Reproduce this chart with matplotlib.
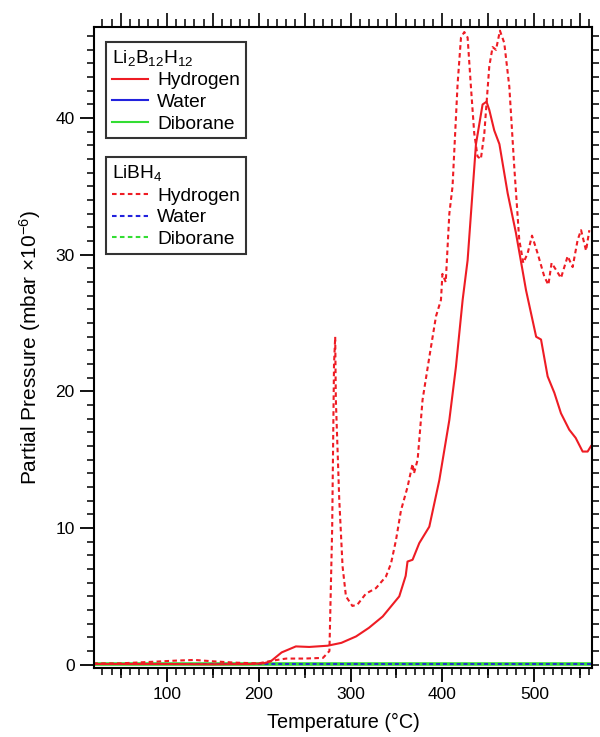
import matplotlib
matplotlib.use("Agg")
import matplotlib.pyplot as plt
from matplotlib.ticker import MultipleLocator, FixedLocator, NullFormatter
from matplotlib.lines import Line2D

plt.rcParams['font.family'] = ['Liberation Sans', 'DejaVu Sans']
plt.rcParams['mathtext.fontset'] = 'custom'
plt.rcParams['mathtext.rm'] = 'Liberation Sans'
plt.rcParams['mathtext.it'] = 'Liberation Sans'

# Li2B12H12 hydrogen (solid)
t_lib12 = [20, 60, 100, 150, 190, 205, 213, 225, 240.5, 255, 275, 290, 306, 320, 335,
           353, 360, 362, 367.5, 374.8, 385.7, 396.6, 407.5, 414.7, 422, 427.4, 436.5,
           443.7, 448, 451, 456.4, 462, 471, 480, 491, 502, 507.3, 514.5, 521.8, 529,
           538, 545, 552.6, 558, 561.7]
h_lib12 = [0.05, 0.05, 0.05, 0.03, 0.05, 0.1, 0.24, 0.9, 1.34, 1.3, 1.39, 1.6, 2.07, 2.7, 3.53,
           5.0, 6.5, 7.55, 7.68, 8.9, 10.1, 13.5, 17.9, 21.8, 26.7, 29.6, 38.1,
           41.0, 41.2, 40.6, 39.1, 38.1, 34.5, 31.6, 27.4, 24.0, 23.8, 21.1, 19.9, 18.4,
           17.2, 16.6, 15.6, 15.6, 16.0]

# LiBH4 hydrogen (dashed)
t_libh4 = [20, 50, 80, 110, 130, 150, 175, 200, 215, 230, 250, 270, 277, 280, 282, 283.3,
           284, 287.7, 291.3, 295, 302, 307.5, 316.7, 327.6, 338.5, 344, 349.4, 354.9,
           362, 367.5, 369, 373, 378.4, 385.7, 393, 398.4, 400, 403.6, 407.5, 411,
           416.5, 420.2, 423.8, 427.4, 431, 434.6, 438.2, 441.8, 445.6, 451, 454.6,
           458.3, 462.6, 467.3, 472.8, 478.2, 483.6, 488, 492.7, 497.5, 503.6, 510.9,
           515.3, 518.8, 523.6, 529, 536.3, 541.7, 547.2, 550.9, 556.3, 559.9]
h_libh4 = [0.1, 0.1, 0.2, 0.3, 0.35, 0.25, 0.15, 0.1, 0.3, 0.45, 0.45, 0.5, 1.0, 10.0, 22.0, 24.0,
           19.4, 12.1, 7.2, 5.0, 4.3, 4.4, 5.2, 5.6, 6.45, 7.4, 9.1, 11.3,
           13.0, 14.7, 14.0, 15.0, 19.4, 22.5, 25.5, 26.7, 28.6, 28.0, 33.0, 35.0,
           42.5, 45.9, 46.3, 45.9, 42.3, 38.9, 37.2, 37.0, 38.9, 43.8, 45.2,
           45.0, 46.4, 45.5, 42.3, 36.4, 31.1, 29.4, 30.1, 31.4, 30.1, 28.4,
           27.8, 29.4, 28.9, 28.3, 29.9, 29.1, 31.1, 31.8, 30.3, 31.8]

# Water and diborane (near zero)
t_flat = [20, 150, 280, 420, 562]
water_lib12 = [0.04, 0.04, 0.04, 0.04, 0.04]
dib_lib12 = [0.04, 0.04, 0.04, 0.04, 0.04]
water_libh4 = [0.04, 0.04, 0.04, 0.04, 0.04]
dib_libh4 = [0.04, 0.04, 0.04, 0.04, 0.04]

RED = '#ee1c24'
BLUE = '#2222dd'
GREEN = '#33dd33'
DASH = (0, (2.2, 1.6))
FS = 12.5

fig = plt.figure(figsize=(6.0, 7.37), dpi=100)
ax = fig.add_axes([0.157, 0.094, 0.83, 0.869])

ax.plot(t_flat, water_lib12, color=BLUE, lw=1.3)
ax.plot(t_flat, dib_lib12, color=GREEN, lw=2.6, solid_capstyle='butt')
ax.plot(t_flat, dib_libh4, color=GREEN, lw=1.3, linestyle=DASH)
ax.plot(t_flat, water_libh4, color=BLUE, lw=1.3, linestyle=DASH)
ax.plot(t_libh4, h_libh4, color=RED, lw=1.5, linestyle=DASH)
ax.plot(t_lib12, h_lib12, color=RED, lw=1.5)

ax.set_xlim(21, 563)
ax.set_ylim(-0.22, 46.65)

for s in ax.spines.values():
    s.set_linewidth(1.5)

# bottom axis: major at 100s, minor at 10s ; left: major 10, minor 1
ax.xaxis.set_major_locator(FixedLocator([100, 200, 300, 400, 500]))
ax.xaxis.set_minor_locator(MultipleLocator(10))
ax.yaxis.set_major_locator(MultipleLocator(10))
ax.yaxis.set_minor_locator(MultipleLocator(1))
ax.tick_params(which='major', direction='out', length=10, width=1.3, labelsize=FS,
               top=False, right=False, pad=4)
ax.tick_params(which='minor', direction='out', length=5, width=1.1,
               top=False, right=False)

# medium ticks at 50s on bottom
bm = ax.secondary_xaxis('bottom')
bm.xaxis.set_major_locator(FixedLocator([50, 150, 250, 350, 450, 550]))
bm.xaxis.set_major_formatter(NullFormatter())
bm.xaxis.set_minor_locator(FixedLocator([]))
bm.tick_params(which='major', direction='out', length=7.5, width=1.1)
bm.spines['bottom'].set_visible(False)

# top axis: long ticks at 50s, short at 10s
tp = ax.secondary_xaxis('top')
tp.xaxis.set_major_locator(MultipleLocator(50))
tp.xaxis.set_minor_locator(MultipleLocator(10))
tp.xaxis.set_major_formatter(NullFormatter())
tp.tick_params(which='major', direction='out', length=10, width=1.2)
tp.tick_params(which='minor', direction='out', length=5.5, width=1.1)
tp.spines['top'].set_visible(False)

# right axis: uniform short ticks every 1
rt = ax.secondary_yaxis('right')
rt.yaxis.set_major_locator(MultipleLocator(1))
rt.yaxis.set_minor_locator(FixedLocator([]))
rt.yaxis.set_major_formatter(NullFormatter())
rt.tick_params(which='major', direction='out', length=5, width=1.1)
rt.spines['right'].set_visible(False)

ax.set_xlabel('Temperature (°C)', fontsize=14.3, labelpad=8)
ax.set_ylabel('Partial Pressure (mbar ×10$^{-6}$)', fontsize=15)
ax.yaxis.set_label_coords(-0.102, 0.5)

def mk_legend(title, ls, y):
    handles = [Line2D([], [], color=RED, lw=1.5, linestyle=ls),
               Line2D([], [], color=BLUE, lw=1.5, linestyle=ls),
               Line2D([], [], color=GREEN, lw=1.5, linestyle=ls)]
    leg = ax.legend(handles, ['Hydrogen', 'Water', 'Diborane'], title=title,
                    loc='upper left', bbox_to_anchor=(0.024, y), fontsize=13.8,
                    title_fontsize=13.8, frameon=True, fancybox=False,
                    handlelength=1.9, handletextpad=0.45, borderpad=0.3,
                    labelspacing=0.22, borderaxespad=0)
    leg._legend_box.align = 'left'
    fr = leg.get_frame()
    fr.set_edgecolor('black')
    fr.set_linewidth(1.5)
    return leg

l1 = mk_legend('Li$_2$B$_{12}$H$_{12}$', '-', 0.977)
ax.add_artist(l1)
mk_legend('LiBH$_4$', DASH, 0.797)

fig.savefig('out.png', dpi=100)
